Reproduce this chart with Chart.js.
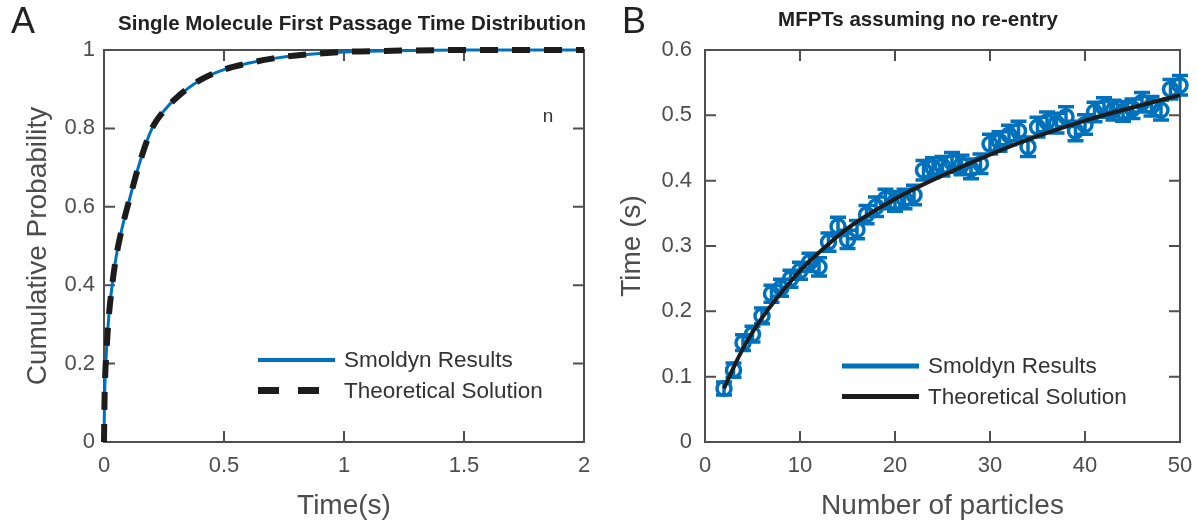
<!DOCTYPE html>
<html lang="en">
<head>
  <meta charset="utf-8">
  <title>First Passage Times</title>
  <script src="https://cdn.jsdelivr.net/npm/chart.js"></script>
  <style>
    html, body { margin: 0; padding: 0; background: #fff; }
    .wrap { position: relative; width: 1197px; height: 523px; }
    canvas { position: absolute; top: 0; }
    #chart-a { left: 0; }
    #chart-b { left: 600px; }
  </style>
</head>
<body>
<div class="wrap">
  <canvas id="chart-a" width="600" height="523"></canvas>
  <canvas id="chart-b" width="597" height="523"></canvas>
</div>
<script>
  // --- panel A: single molecule first passage time CDF ---
  const timeS = [0, 0.002, 0.005, 0.01, 0.02, 0.03, 0.05, 0.075, 0.1, 0.15, 0.2, 0.25, 0.3, 0.4, 0.5, 0.6, 0.7, 0.8, 1.0, 1.2, 1.5, 2.0];
  const cdfSmoldyn = [0, 0.10, 0.17, 0.23, 0.32, 0.38, 0.47, 0.545, 0.605, 0.715, 0.80, 0.845, 0.877, 0.923, 0.95, 0.966, 0.978, 0.986, 0.995, 0.998, 1.0, 1.0];
  const cdfTheory = [0, 0.10, 0.17, 0.23, 0.32, 0.38, 0.47, 0.545, 0.605, 0.715, 0.80, 0.845, 0.877, 0.923, 0.95, 0.966, 0.978, 0.986, 0.995, 0.998, 1.0, 1.0];
  const ticksTimeS = [0, 0.5, 1, 1.5, 2];
  const ticksProb = [0, 0.2, 0.4, 0.6, 0.8, 1];

  // --- panel B: mean first passage time vs number of particles ---
  const particles = [2, 3, 4, 5, 6, 7, 8, 9, 10, 11, 12, 13, 14, 15, 16, 17, 18, 19, 20, 21, 22, 23, 24, 25, 26,
    27, 28, 29, 30, 31, 32, 33, 34, 35, 36, 37, 38, 39, 40, 41, 42, 43, 44, 45, 46, 47, 48, 49, 50];
  const mfptSmoldyn = [0.082, 0.110, 0.152, 0.165, 0.193, 0.227, 0.236, 0.250, 0.262, 0.275, 0.268, 0.306, 0.330,
    0.310, 0.325, 0.348, 0.360, 0.372, 0.368, 0.372, 0.378, 0.416, 0.420, 0.422, 0.428, 0.424, 0.418, 0.426,
    0.456, 0.460, 0.470, 0.476, 0.452, 0.482, 0.490, 0.488, 0.498, 0.476, 0.486, 0.505, 0.512, 0.508, 0.506,
    0.510, 0.520, 0.514, 0.508, 0.540, 0.546];
  const mfptErr = [0.010, 0.011, 0.012, 0.012, 0.012, 0.013, 0.013, 0.013, 0.013, 0.014, 0.014, 0.014, 0.014,
    0.014, 0.014, 0.014, 0.015, 0.015, 0.015, 0.015, 0.015, 0.015, 0.015, 0.015, 0.015, 0.015, 0.015, 0.015,
    0.015, 0.015, 0.015, 0.015, 0.015, 0.015, 0.015, 0.015, 0.015, 0.015, 0.015, 0.015, 0.015, 0.015, 0.015,
    0.015, 0.015, 0.015, 0.015, 0.015, 0.015];
  const theoryN = [2, 3, 4, 5, 6, 8, 10, 12, 15, 20, 25, 30, 35, 40, 45, 50];
  const mfptTheory = [0.082, 0.114, 0.143, 0.168, 0.190, 0.228, 0.262, 0.290, 0.327, 0.372, 0.408, 0.440, 0.468, 0.492, 0.512, 0.531];
  const ticksParticles = [0, 10, 20, 30, 40, 50];
  const ticksTime = [0, 0.1, 0.2, 0.3, 0.4, 0.5, 0.6];

  const BLUE = '#0072BD';
  const INK = '#1c1c1c';
  const AXIS = '#4f4f4f';
  const FONT = '"Liberation Sans", Arial, Helvetica, sans-serif';

  // MATLAB-like frame with inward ticks on all four sides
  const boxFrame = {
    id: 'boxFrame',
    beforeDatasetsDraw(chart, args, opts) {
      const { ctx, chartArea: { left, right, top, bottom }, scales: { x, y } } = chart;
      const tl = 11;
      ctx.save();
      ctx.strokeStyle = AXIS;
      ctx.lineWidth = 2;
      ctx.strokeRect(left, top, right - left, bottom - top);
      ctx.beginPath();
      opts.xTicks.forEach(v => {
        const px = x.getPixelForValue(v);
        ctx.moveTo(px, bottom); ctx.lineTo(px, bottom - tl);
        ctx.moveTo(px, top); ctx.lineTo(px, top + tl);
      });
      opts.yTicks.forEach(v => {
        const py = y.getPixelForValue(v);
        ctx.moveTo(left, py); ctx.lineTo(left + tl, py);
        ctx.moveTo(right, py); ctx.lineTo(right - tl, py);
      });
      ctx.stroke();
      ctx.restore();
    }
  };

  // vertical error bars with caps for the simulation points
  const errorBars = {
    id: 'errorBars',
    beforeDatasetsDraw(chart, args, opts) {
      if (!opts.on) return;
      const { ctx, scales: { x, y } } = chart;
      const cap = 8;
      ctx.save();
      ctx.strokeStyle = BLUE;
      ctx.lineWidth = 3.5;
      ctx.beginPath();
      particles.forEach((n, i) => {
        const px = x.getPixelForValue(n);
        const hi = y.getPixelForValue(mfptSmoldyn[i] + mfptErr[i]);
        const lo = y.getPixelForValue(mfptSmoldyn[i] - mfptErr[i]);
        ctx.moveTo(px, hi); ctx.lineTo(px, lo);
        ctx.moveTo(px - cap, hi); ctx.lineTo(px + cap, hi);
        ctx.moveTo(px - cap, lo); ctx.lineTo(px + cap, lo);
      });
      ctx.stroke();
      ctx.restore();
    }
  };

  // titles, panel letters and the in-plot legend
  const decorations = {
    id: 'decorations',
    afterDraw(chart, args, opts) {
      const { ctx } = chart;
      ctx.save();
      ctx.textBaseline = 'middle';
      ctx.fillStyle = '#222';
      ctx.font = '36px ' + FONT;
      ctx.textAlign = 'left';
      ctx.fillText(opts.letter, opts.letterX, 23);
      ctx.font = 'bold 20.5px ' + FONT;
      ctx.textAlign = 'center';
      ctx.fillText(opts.title, opts.titleX, opts.titleY);
      if (opts.note) {
        ctx.font = '19px ' + FONT;
        ctx.fillStyle = '#333';
        ctx.fillText(opts.note.text, opts.note.x, opts.note.y);
      }
      ctx.font = '22.5px ' + FONT;
      ctx.textAlign = 'left';
      opts.legend.forEach((item, i) => {
        const ly = opts.legendY + i * 30.5;
        ctx.save();
        ctx.strokeStyle = item.color;
        ctx.lineWidth = item.width;
        ctx.lineCap = 'butt';
        ctx.setLineDash(item.dash || []);
        ctx.beginPath();
        ctx.moveTo(opts.legendX, ly);
        ctx.lineTo(opts.legendX + 77, ly);
        ctx.stroke();
        ctx.restore();
        ctx.fillStyle = '#333';
        ctx.fillText(item.label, opts.legendX + 86, ly + 1);
      });
      ctx.restore();
    }
  };

  function axisOptions(ticks, title, titlePad, tickPad, isX, size) {
    return {
      type: 'linear',
      min: ticks[0],
      max: ticks[ticks.length - 1],
      afterBuildTicks: scale => { scale.ticks = ticks.map(v => ({ value: v })); },
      afterFit: scale => {
        if (isX) scale.height = size; else scale.width = size;
        scale.paddingLeft = scale.paddingRight = scale.paddingTop = scale.paddingBottom = 0;
      },
      grid: { display: false, drawTicks: false },
      border: { display: false },
      ticks: {
        color: '#4d4d4d',
        padding: tickPad,
        maxRotation: 0,
        autoSkip: false,
        font: { family: FONT, size: 22 },
        callback: v => String(Math.round(v * 100) / 100)
      },
      title: {
        display: true,
        text: title,
        color: '#4d4d4d',
        font: { family: FONT, size: 28 },
        padding: titlePad
      }
    };
  }

  new Chart(document.getElementById('chart-a'), {
    type: 'line',
    data: {
      datasets: [{
        label: 'Theoretical Solution',
        data: timeS.map((t, i) => ({ x: t, y: cdfTheory[i] })),
        borderColor: INK,
        borderWidth: 6,
        borderDash: [18, 14],
        borderCapStyle: 'butt',
        pointRadius: 0,
        cubicInterpolationMode: 'monotone',
        clip: false,
        order: 0
      }, {
        label: 'Smoldyn Results',
        data: timeS.map((t, i) => ({ x: t, y: cdfSmoldyn[i] })),
        borderColor: BLUE,
        borderWidth: 3,
        pointRadius: 0,
        cubicInterpolationMode: 'monotone',
        clip: false,
        order: 1
      }]
    },
    options: {
      responsive: false,
      animation: false,
      layout: { padding: { left: 0, top: 50, right: 16, bottom: 0 } },
      scales: {
        x: axisOptions(ticksTimeS, 'Time(s)', { top: 0, bottom: 0 }, 11, true, 81),
        y: axisOptions(ticksProb, 'Cumulative Probability', { top: 21, bottom: 0 }, 9, false, 104)
      },
      plugins: {
        legend: { display: false },
        tooltip: { enabled: false },
        boxFrame: { xTicks: ticksTimeS, yTicks: ticksProb },
        errorBars: { on: false },
        decorations: {
          letter: 'A', letterX: 11,
          title: 'Single Molecule First Passage Time Distribution', titleX: 352, titleY: 24,
          note: { text: 'n', x: 548, y: 117 },
          legendX: 258, legendY: 360,
          legend: [
            { label: 'Smoldyn Results', color: BLUE, width: 4 },
            { label: 'Theoretical Solution', color: INK, width: 7, dash: [21, 19] }
          ]
        }
      }
    },
    plugins: [boxFrame, errorBars, decorations]
  });

  new Chart(document.getElementById('chart-b'), {
    type: 'line',
    data: {
      datasets: [{
        label: 'Theoretical Solution',
        data: theoryN.map((n, i) => ({ x: n, y: mfptTheory[i] })),
        borderColor: INK,
        borderWidth: 4,
        pointRadius: 0,
        cubicInterpolationMode: 'monotone',
        clip: false,
        order: 0
      }, {
        label: 'Smoldyn Results',
        data: particles.map((n, i) => ({ x: n, y: mfptSmoldyn[i] })),
        showLine: false,
        borderColor: BLUE,
        pointStyle: 'circle',
        pointRadius: 7,
        pointBorderWidth: 3.5,
        pointBorderColor: BLUE,
        pointBackgroundColor: 'rgba(0,0,0,0)',
        clip: false,
        order: 1
      }]
    },
    options: {
      responsive: false,
      animation: false,
      layout: { padding: { left: 0, top: 50, right: 17, bottom: 0 } },
      scales: {
        x: axisOptions(ticksParticles, 'Number of particles', { top: 0, bottom: 0 }, 11, true, 81),
        y: axisOptions(ticksTime, 'Time (s)', { top: 15, bottom: 0 }, 13, false, 105)
      },
      plugins: {
        legend: { display: false },
        tooltip: { enabled: false },
        boxFrame: { xTicks: ticksParticles, yTicks: ticksTime },
        errorBars: { on: true },
        decorations: {
          letter: 'B', letterX: 22,
          title: 'MFPTs assuming no re-entry', titleX: 318, titleY: 20,
          legendX: 242, legendY: 366,
          legend: [
            { label: 'Smoldyn Results', color: BLUE, width: 5 },
            { label: 'Theoretical Solution', color: INK, width: 5 }
          ]
        }
      }
    },
    plugins: [boxFrame, errorBars, decorations]
  });
</script>
</body>
</html>
